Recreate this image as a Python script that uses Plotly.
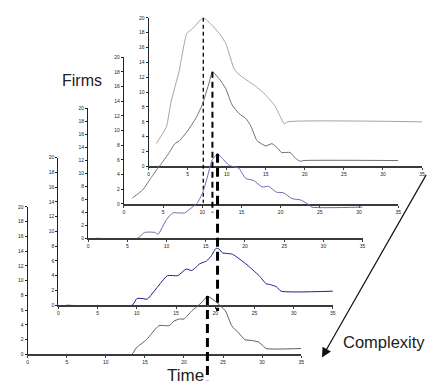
import plotly.graph_objects as go

# ---------------- data ----------------
T1 = [1.0, 1.8, 2.3, 2.9, 3.9, 4.9, 5.6, 7.0, 8.1, 9.2, 9.9, 11.0, 11.9, 13.7, 14.9, 16.2, 17.0, 17.4, 17.8, 35]
F1 = [3.1, 4.4, 5.4, 8.8, 12.8, 17.9, 18.5, 20.0, 19.0, 17.7, 16.5, 13.0, 12.1, 10.8, 9.7, 8.1, 6.4, 5.7, 6.0, 6.0]

T2 = [1.1, 2.4, 3.5, 4.3, 4.8, 5.8, 6.5, 7.1, 8.1, 9.2, 10.0, 10.9, 11.3, 12.2, 13.0, 13.8, 14.7, 15.6, 16.2, 17.0,
      18.1, 18.9, 19.7, 20.1, 21.2, 21.9, 22.5, 22.9, 35]
F2 = [0.8, 1.9, 3.6, 4.8, 5.5, 7.0, 8.2, 8.6, 9.9, 11.7, 13.5, 16.6, 18.0, 17.0, 15.7, 13.5, 12.3, 11.6, 10.6, 8.6,
      7.9, 8.2, 7.5, 7.0, 7.0, 6.2, 5.8, 5.9, 5.9]

T3 = [1, 6.3, 7.2, 8.5, 8.9, 10.0, 10.8, 12.3, 13.3, 13.9, 14.6, 15.2, 15.8, 16.5, 17.1, 18.0, 19.2, 20.1, 21.1,
      22.2, 23.0, 24.0, 24.9, 26.0, 27.1, 28.1, 28.5, 35]
F3 = [0, 0, 0.9, 0.9, 0.6, 2.9, 3.9, 3.9, 4.8, 5.4, 7.0, 9.4, 12.0, 13.0, 12.3, 11.2, 10.8, 9.2, 8.9,
      7.9, 8.0, 7.1, 7.0, 6.1, 5.9, 5.2, 4.8, 4.8]

T4 = [1, 9.4, 10.0, 10.8, 11.3, 13.9, 15.2, 16.3, 17.0, 17.6, 18.0, 18.9, 19.5, 20.1, 20.5, 20.9, 22.2, 23.9,
      25.6, 26.5, 27.0, 27.8, 28.4, 35]
F4 = [0, 0, 0.9, 0.9, 0.8, 4.0, 4.0, 4.9, 4.7, 5.2, 5.6, 6.0, 6.7, 7.7, 7.6, 7.1, 6.9, 5.6,
      4.0, 2.9, 2.8, 2.5, 1.9, 1.9]

T5 = [1, 13.3, 13.9, 15.2, 16.8, 18.1, 18.7, 19.4, 20.0, 21.0, 21.9, 22.5, 23.0, 24.0, 25.3, 26.1, 27.0, 27.8,
      28.6, 29.5, 30.1, 30.5, 35]
F5 = [0, 0, 0.9, 2.0, 3.9, 3.9, 4.5, 4.8, 4.8, 5.9, 6.7, 7.3, 7.9, 7.2, 5.9, 3.9, 2.9, 2.0,
      1.9, 1.7, 1.2, 0.8, 0.8]

X_TICKS = [0, 5, 10, 15, 20, 25, 30, 35]
Y_TICKS = [0, 2, 4, 6, 8, 10, 12, 14, 16, 18, 20]
LABEL_Y = "Firms"
LABEL_X = "Time"
LABEL_Z = "Complexity"

# ---------------- layout / style ----------------
W, H = 427, 385
# pixel boxes of each panel: (x at 0, x at 35, y at 0, y at 20)
BOXES = [(149, 425, 166, 15), (124, 401, 204, 55), (88, 365, 239, 107),
         (58, 335, 307, 157), (27, 303, 357, 207)]
COLORS = ['#a4a4a4', '#6e6e6e', '#6a6ab4', '#1e1e8c', '#5c5c5c']
DASH_BOTTOM = [-4.9, -1.2, -11.2, None, -3.5]
DASH_WIDTH = [1.3, 2.0, 3.0, 3.0, 3.0]
DASH_PATTERN = ['4px,3px', '6px,4px', '9px,5px', '9px,5px', '9px,5px']

series = [(T1, F1), (T2, F2), (T3, F3), (T4, F4), (T5, F5)]

fig = go.Figure()
layout = dict(width=W, height=H, margin=dict(l=0, r=0, t=0, b=0),
              paper_bgcolor='white', plot_bgcolor='rgba(0,0,0,0)', showlegend=False)

for i, ((xs, ys), box) in enumerate(zip(series, BOXES)):
    n = i + 1
    sfx = '' if n == 1 else str(n)
    x0, x1, y0, y20 = box
    xd = [x0 / W, x1 / W]
    yd = [1 - y0 / H, 1 - y20 / H]
    layout['xaxis' + sfx] = dict(domain=xd, range=[0, 35], anchor='y' + sfx, tickvals=X_TICKS,
                                 showgrid=False, zeroline=False, showline=True, linecolor='#3a3a3a',
                                 linewidth=1.6, ticks='outside', ticklen=2, tickwidth=1, tickcolor='#3a3a3a',
                                 tickfont=dict(family='Liberation Sans, Arial', size=5, color='#222'))
    layout['yaxis' + sfx] = dict(domain=yd, range=[0, 20], anchor='x' + sfx, tickvals=Y_TICKS,
                                 showgrid=False, zeroline=False, showline=True, linecolor='#222',
                                 linewidth=1.2, ticks='outside', ticklen=2, tickwidth=1, tickcolor='#222',
                                 tickfont=dict(family='Liberation Sans, Arial', size=5, color='#222'))
    fig.add_trace(go.Scatter(x=xs, y=ys, mode='lines', xaxis='x' + sfx, yaxis='y' + sfx,
                             line=dict(color=COLORS[i], width=1, shape='spline', smoothing=0.5),
                             hoverinfo='skip'))
    # overlay y axis with the same scale spanning the whole figure, for the dashed peak line
    if DASH_BOTTOM[i] is not None:
        a, b = yd
        k = 20 / (b - a)
        on = n + 5
        layout['yaxis' + str(on)] = dict(domain=[0, 1], range=[-a * k, 20 + (1 - b) * k],
                                         anchor='x' + sfx, visible=False, showgrid=False, zeroline=False)
        j = max(range(len(ys)), key=lambda m: ys[m])
        fig.add_trace(go.Scatter(x=[xs[j], xs[j]], y=[ys[j], DASH_BOTTOM[i]], mode='lines',
                                 xaxis='x' + sfx, yaxis='y' + str(on), hoverinfo='skip',
                                 line=dict(color='black', width=DASH_WIDTH[i], dash=DASH_PATTERN[i])))

def tfont(size):
    return dict(family='Liberation Sans, Arial', size=size, color='#222')

layout['annotations'] = [
    dict(text=LABEL_Y, x=60 / W, y=1 - 79 / H, xref='paper', yref='paper', xanchor='left', yanchor='middle',
         showarrow=False, font=tfont(16)),
    dict(text=LABEL_X, x=186 / W, y=1 - 378 / H, xref='paper', yref='paper', xanchor='center', yanchor='middle',
         showarrow=False, font=tfont(17)),
    dict(text=LABEL_Z, x=343 / W, y=1 - 344 / H, xref='paper', yref='paper', xanchor='left', yanchor='middle',
         showarrow=False, font=tfont(16.5)),
    dict(text='', x=324 / W, y=1 - 360 / H, xref='paper', yref='paper', showarrow=True,
         ax=108, ay=-184, arrowhead=2, arrowsize=1.6, arrowwidth=1.2, arrowcolor='#111'),
]
fig.update_layout(**layout)
fig.write_html("out.html")
